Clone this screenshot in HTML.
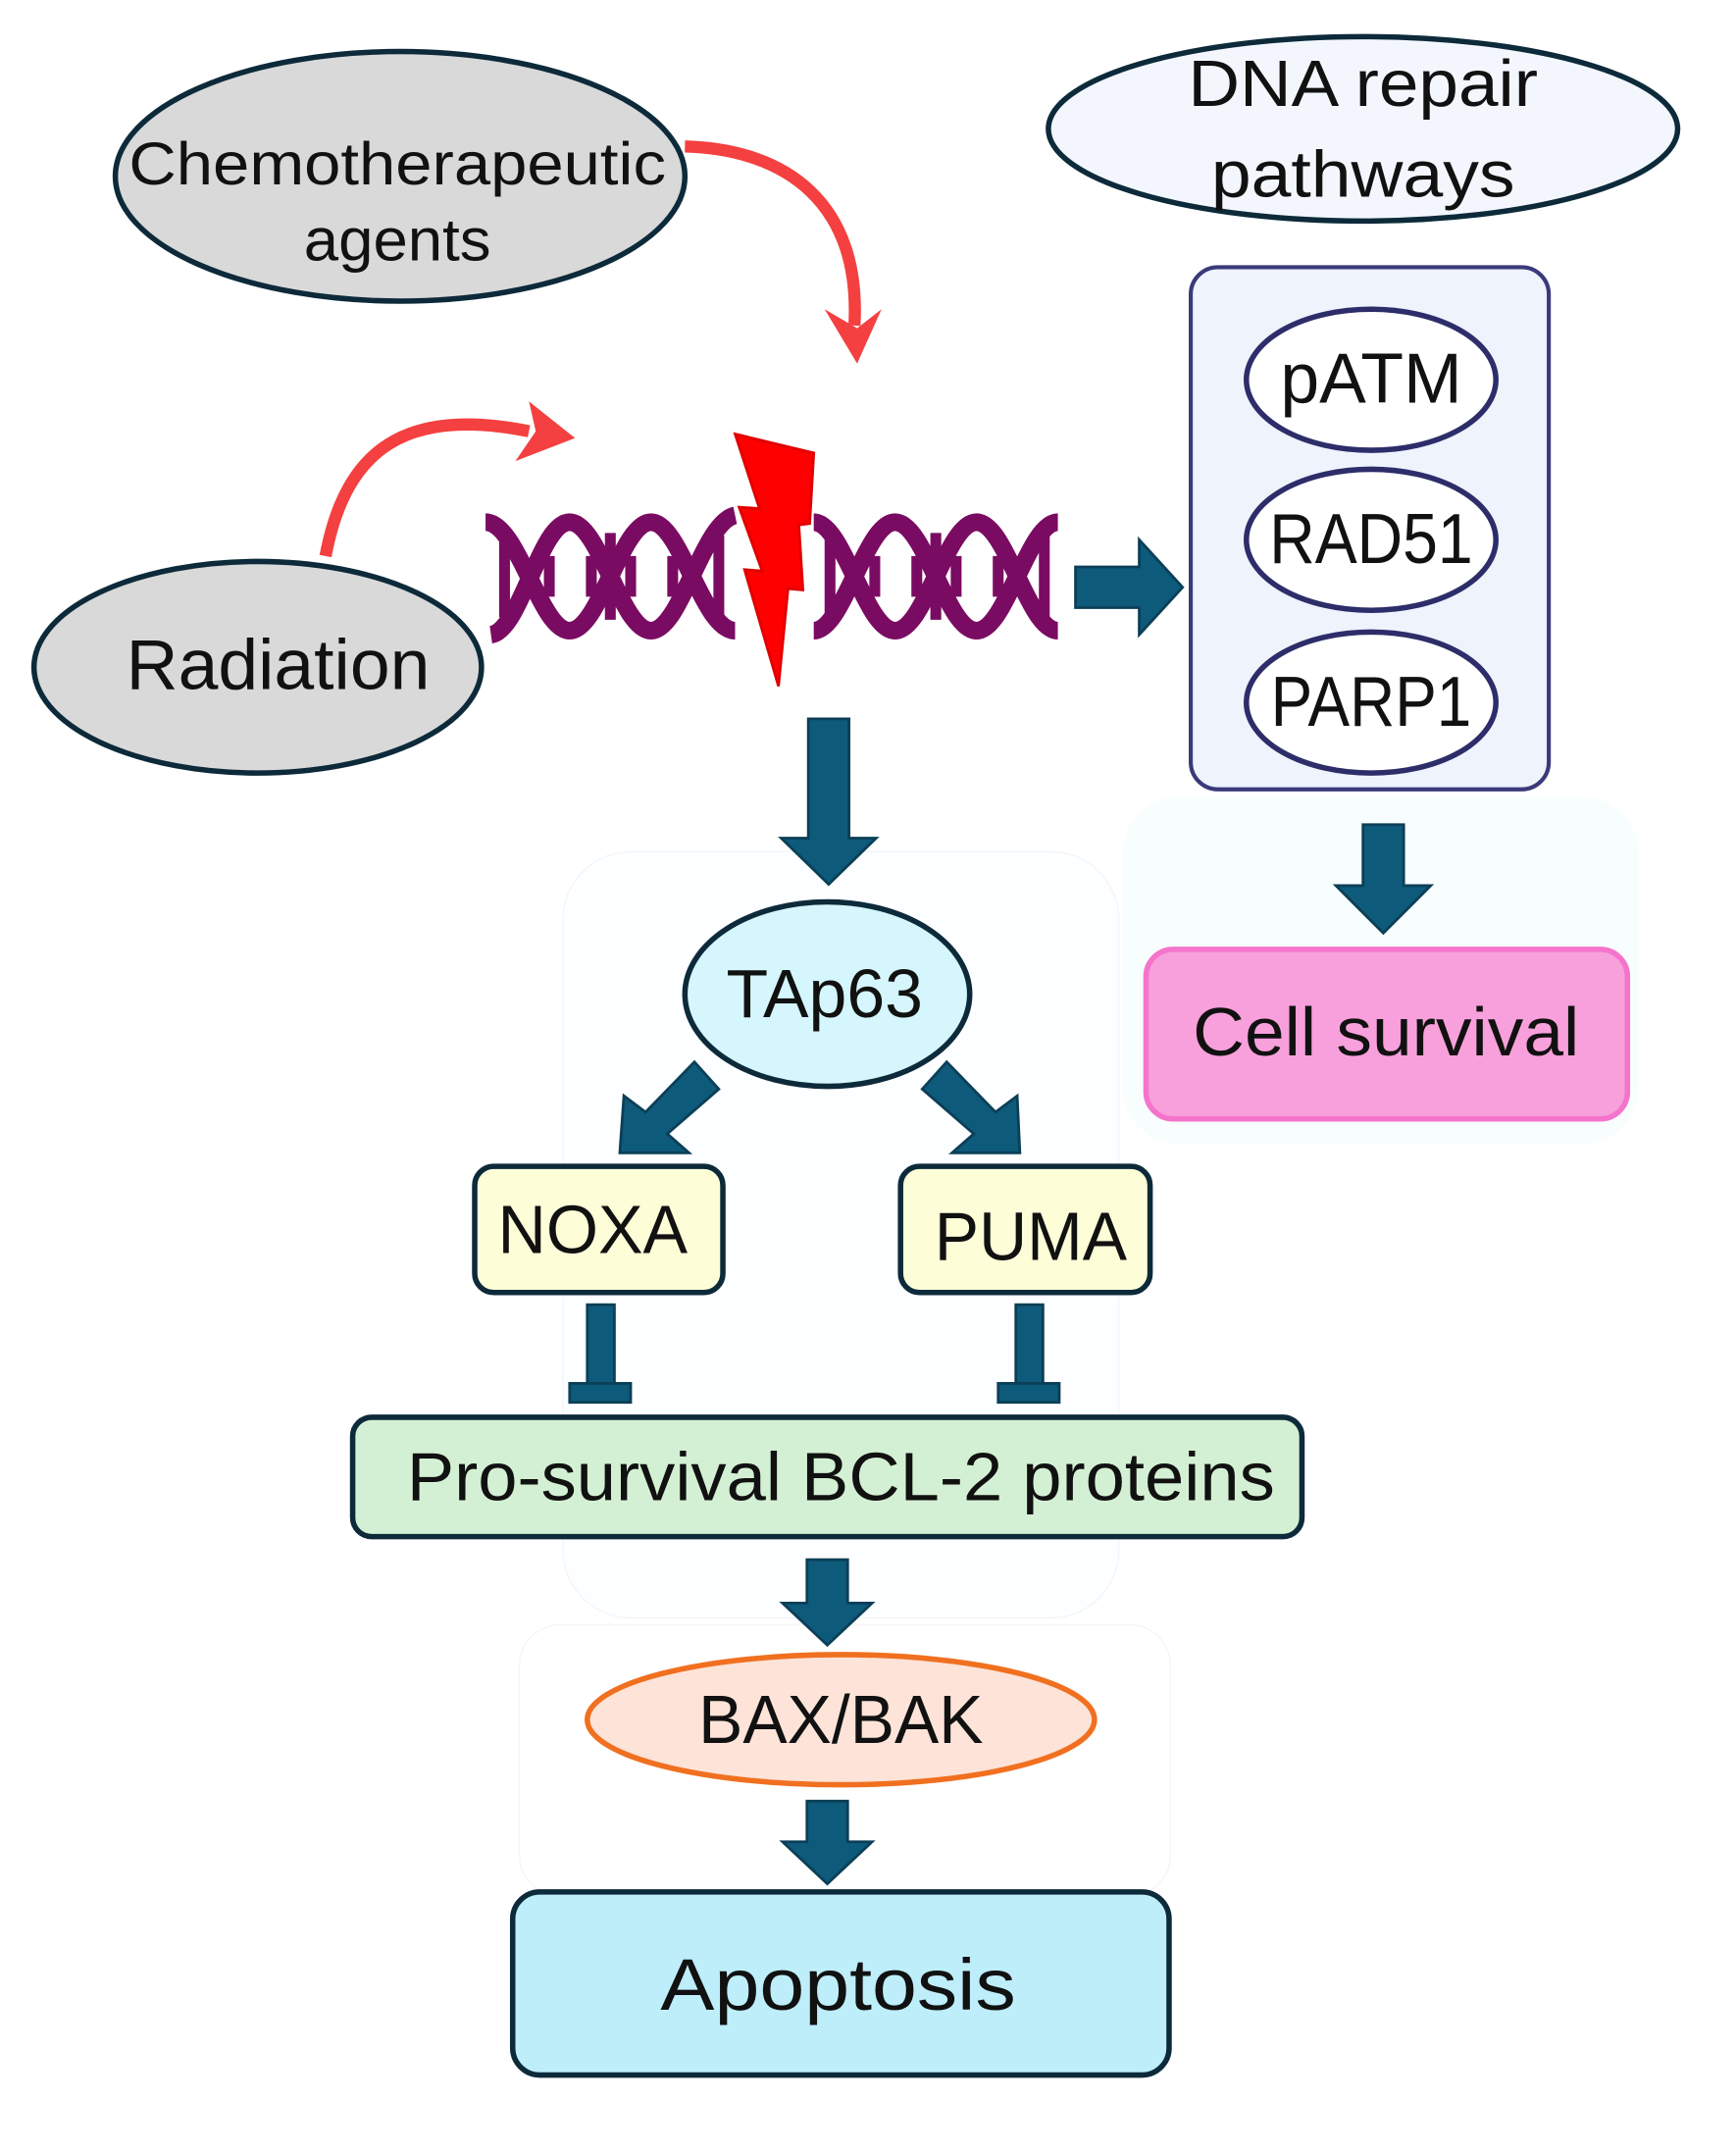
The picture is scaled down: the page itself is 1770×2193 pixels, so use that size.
<!DOCTYPE html>
<html><head><meta charset="utf-8"><style>
html,body{margin:0;padding:0;background:#fff;}
svg{display:block;}
text{font-family:"Liberation Sans",sans-serif;fill:#111;}
</style></head><body>
<svg width="1770" height="2193" viewBox="0 0 1280 1586" xmlns="http://www.w3.org/2000/svg">
<!-- faint backdrops -->
<rect x="415" y="628" width="410" height="565" rx="50" fill="#fdfeff" stroke="#f2f6f8"/>
<rect x="828" y="588" width="380" height="255" rx="40" fill="#f8fdfd"/>
<rect x="383" y="1198" width="480" height="200" rx="30" fill="#fff" stroke="#f5f5f5"/>

<!-- Chemo -->
<ellipse cx="295" cy="130" rx="210" ry="92" fill="#d9d9d9" stroke="#0d2a3a" stroke-width="4"/>
<text x="293" y="136" font-size="44" text-anchor="middle" textLength="396" lengthAdjust="spacingAndGlyphs">Chemotherapeutic</text>
<text x="293" y="192" font-size="44" text-anchor="middle" textLength="138" lengthAdjust="spacingAndGlyphs">agents</text>
<!-- DNA repair -->
<ellipse cx="1005" cy="95" rx="232" ry="68" fill="#f3f7fd" stroke="#0d2a3a" stroke-width="4"/>
<text x="1005" y="78" font-size="48" text-anchor="middle" textLength="258" lengthAdjust="spacingAndGlyphs">DNA repair</text>
<text x="1005" y="145" font-size="48" text-anchor="middle" textLength="224" lengthAdjust="spacingAndGlyphs">pathways</text>
<!-- Radiation -->
<ellipse cx="190" cy="492" rx="165" ry="78" fill="#d9d9d9" stroke="#0d2a3a" stroke-width="4"/>
<text x="205" y="508" font-size="52" text-anchor="middle" textLength="224" lengthAdjust="spacingAndGlyphs">Radiation</text>

<!-- red arrows -->
<path d="M505 108 C580 110 635 150 630 240" fill="none" stroke="#f44040" stroke-width="9"/>
<path d="M608 228 L632 268 L650 228 L632 242 Z" fill="#f44040"/>
<path d="M240 410 C255 330 300 300 390 318" fill="none" stroke="#f44040" stroke-width="9"/>
<path d="M390 296 L424 323 L380 340 L395 318 Z" fill="#f44040"/>

<!-- DNA helix -->
<g fill="none" stroke="#7a0b62" stroke-width="13" stroke-linecap="butt">
<path d="M358 385 C382 385 398 465 420 465 C442 465 458 385 480 385 C502 385 518 465 542 465"/>
<path d="M362 468 C384 465 398 385 420 385 C442 385 458 465 480 465 C502 465 518 385 542 380"/>
<path d="M600 385 C622 385 638 465 660 465 C682 465 698 385 720 385 C742 385 758 465 780 465"/>
<path d="M600 465 C622 465 638 385 660 385 C682 385 698 465 720 465 C742 465 758 385 780 385"/>
</g>
<g stroke="#7a0b62" stroke-width="8">
<line x1="372" y1="395" x2="372" y2="455"/><line x1="405" y1="410" x2="405" y2="440"/>
<line x1="436" y1="410" x2="436" y2="440"/><line x1="450" y1="393" x2="450" y2="457"/>
<line x1="465" y1="410" x2="465" y2="440"/><line x1="496" y1="410" x2="496" y2="440"/>
<line x1="530" y1="395" x2="530" y2="455"/>
<line x1="612" y1="395" x2="612" y2="455"/><line x1="645" y1="410" x2="645" y2="440"/>
<line x1="676" y1="410" x2="676" y2="440"/><line x1="690" y1="393" x2="690" y2="457"/>
<line x1="705" y1="410" x2="705" y2="440"/><line x1="736" y1="410" x2="736" y2="440"/>
<line x1="770" y1="395" x2="770" y2="455"/>
</g>
<!-- lightning -->
<path d="M542 320 L600 334 L597 386 L589 387 L592 435 L581 434 L574 506 L549 420 L562 421 L545 374 L560 375 Z" fill="#ff0000" stroke="#e00000" stroke-width="2" stroke-linejoin="miter"/>

<!-- right arrow -->
<path d="M793 418 H840 V398 L872 433 L840 468 V448 H793 Z" fill="#0e5a7a" stroke="#0b3f57" stroke-width="2"/>

<!-- repair box -->
<rect x="878" y="197" width="264" height="385" rx="20" fill="#eef3fc" stroke="#3a3a7a" stroke-width="3"/>
<g fill="#fff" stroke="#2d2d6a" stroke-width="4">
<ellipse cx="1011" cy="280" rx="92" ry="52"/>
<ellipse cx="1011" cy="398" rx="92" ry="52"/>
<ellipse cx="1011" cy="518" rx="92" ry="52"/>
</g>
<text x="1011" y="297" font-size="52" text-anchor="middle" textLength="134" lengthAdjust="spacingAndGlyphs">pATM</text>
<text x="1011" y="415" font-size="52" text-anchor="middle" textLength="150" lengthAdjust="spacingAndGlyphs">RAD51</text>
<text x="1011" y="535" font-size="52" text-anchor="middle" textLength="148" lengthAdjust="spacingAndGlyphs">PARP1</text>

<g fill="#0e5a7a" stroke="#0b3f57" stroke-width="2">
<!-- main down arrow -->
<path d="M596 530 H626 V618 H646 L611 652 L576 618 H596 Z"/>
<!-- cell survival arrow -->
<path d="M1005 608 H1035 V653 H1055 L1020 688 L985 653 H1005 Z"/>
<!-- BCL -> BAX -->
<path d="M595 1150 H625 V1182 H643 L610 1213 L577 1182 H595 Z"/>
<!-- BAX -> Apoptosis -->
<path d="M595 1328 H625 V1358 H643 L610 1389 L577 1358 H595 Z"/>
<!-- diagonals -->
<path d="M512 783 L530 803 L492 836 L508 850 L457 850 L460 808 L476 820 Z"/>
<path d="M698 783 L680 803 L718 836 L702 850 L752 850 L750 808 L734 820 Z"/>
<!-- inhibition -->
<rect x="433" y="962" width="20" height="60"/><rect x="420" y="1020" width="45" height="14"/>
<rect x="749" y="962" width="20" height="60"/><rect x="736" y="1020" width="45" height="14"/>
</g>

<rect x="845" y="700" width="355" height="125" rx="20" fill="#f8a0dc" stroke="#f474cc" stroke-width="4"/>
<text x="1022" y="778" font-size="50" text-anchor="middle" textLength="285" lengthAdjust="spacingAndGlyphs">Cell survival</text>

<!-- TAp63 -->
<ellipse cx="610" cy="733" rx="105" ry="68" fill="#d4f6fc" stroke="#0d2a3a" stroke-width="4"/>
<text x="608" y="750" font-size="50" text-anchor="middle" textLength="145" lengthAdjust="spacingAndGlyphs">TAp63</text>

<!-- NOXA / PUMA -->
<rect x="350" y="860" width="183" height="93" rx="14" fill="#fdfdd8" stroke="#0d2a3a" stroke-width="4"/>
<text x="437" y="924" font-size="50" text-anchor="middle" textLength="140" lengthAdjust="spacingAndGlyphs">NOXA</text>
<rect x="664" y="860" width="184" height="93" rx="14" fill="#fdfdd8" stroke="#0d2a3a" stroke-width="4"/>
<text x="760" y="929" font-size="50" text-anchor="middle" textLength="142" lengthAdjust="spacingAndGlyphs">PUMA</text>
<!-- BCL2 -->
<rect x="260" y="1045" width="700" height="88" rx="14" fill="#d4f0d4" stroke="#0d2a3a" stroke-width="4"/>
<text x="620" y="1106" font-size="50" text-anchor="middle" textLength="640" lengthAdjust="spacingAndGlyphs">Pro-survival BCL-2 proteins</text>
<!-- BAX -->
<ellipse cx="620" cy="1268" rx="187" ry="48" fill="#fde3d8" stroke="#f07020" stroke-width="4"/>
<text x="620" y="1285" font-size="50" text-anchor="middle" textLength="210" lengthAdjust="spacingAndGlyphs">BAX/BAK</text>
<!-- Apoptosis -->
<rect x="378" y="1395" width="484" height="135" rx="20" fill="#bdeefa" stroke="#0d2a3a" stroke-width="4"/>
<text x="618" y="1482" font-size="54" text-anchor="middle" textLength="262" lengthAdjust="spacingAndGlyphs">Apoptosis</text>
</svg>
</body></html>
